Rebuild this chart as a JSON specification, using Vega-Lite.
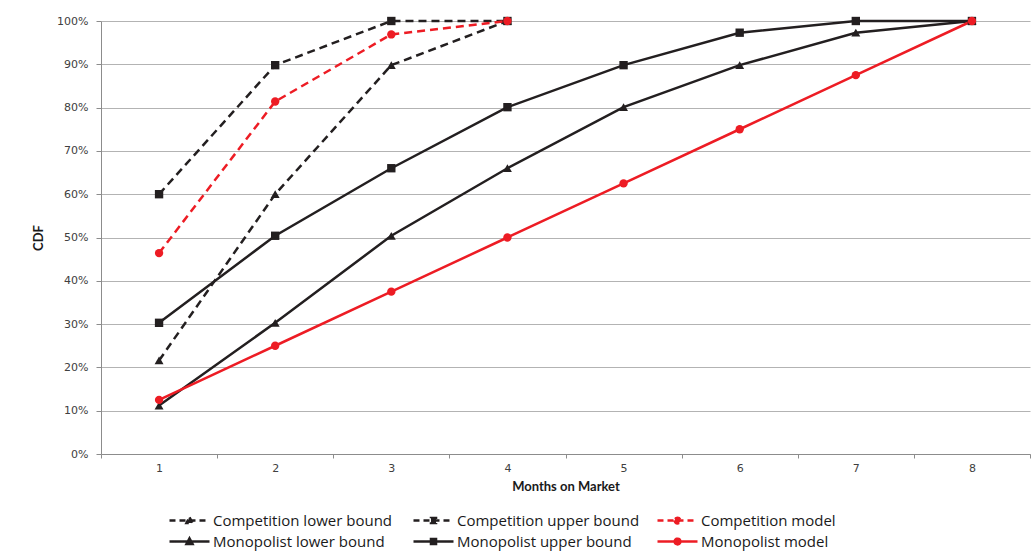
{
  "$schema": "https://vega.github.io/schema/vega-lite/v6.json",
  "width": 929,
  "height": 433,
  "autosize": {"type": "none"},
  "padding": {"left": 101, "top": 21, "right": 4, "bottom": 99},
  "background": "white",
  "config": {
    "view": {"stroke": null},
    "axis": {"labelFont": "DejaVu Sans", "labelFontSize": 11, "labelColor": "#404040", "titleFont": "Lato", "titleFontSize": 13, "titleFontWeight": "bold", "titleColor": "#1a1a1a", "domainColor": "#8c8c8c", "tickColor": "#8c8c8c", "gridColor": "#b3b3b3"}
  },
  "data": {"values": [
    {"month": 1, "cdf": 0.216, "series": "Competition lower bound"},
    {"month": 2, "cdf": 0.600, "series": "Competition lower bound"},
    {"month": 3, "cdf": 0.898, "series": "Competition lower bound"},
    {"month": 4, "cdf": 1.000, "series": "Competition lower bound"},
    {"month": 1, "cdf": 0.600, "series": "Competition upper bound"},
    {"month": 2, "cdf": 0.898, "series": "Competition upper bound"},
    {"month": 3, "cdf": 1.000, "series": "Competition upper bound"},
    {"month": 4, "cdf": 1.000, "series": "Competition upper bound"},
    {"month": 1, "cdf": 0.464, "series": "Competition model"},
    {"month": 2, "cdf": 0.814, "series": "Competition model"},
    {"month": 3, "cdf": 0.969, "series": "Competition model"},
    {"month": 4, "cdf": 1.000, "series": "Competition model"},
    {"month": 1, "cdf": 0.112, "series": "Monopolist lower bound"},
    {"month": 2, "cdf": 0.303, "series": "Monopolist lower bound"},
    {"month": 3, "cdf": 0.504, "series": "Monopolist lower bound"},
    {"month": 4, "cdf": 0.660, "series": "Monopolist lower bound"},
    {"month": 5, "cdf": 0.801, "series": "Monopolist lower bound"},
    {"month": 6, "cdf": 0.898, "series": "Monopolist lower bound"},
    {"month": 7, "cdf": 0.973, "series": "Monopolist lower bound"},
    {"month": 8, "cdf": 1.000, "series": "Monopolist lower bound"},
    {"month": 1, "cdf": 0.303, "series": "Monopolist upper bound"},
    {"month": 2, "cdf": 0.504, "series": "Monopolist upper bound"},
    {"month": 3, "cdf": 0.660, "series": "Monopolist upper bound"},
    {"month": 4, "cdf": 0.801, "series": "Monopolist upper bound"},
    {"month": 5, "cdf": 0.898, "series": "Monopolist upper bound"},
    {"month": 6, "cdf": 0.973, "series": "Monopolist upper bound"},
    {"month": 7, "cdf": 1.000, "series": "Monopolist upper bound"},
    {"month": 8, "cdf": 1.000, "series": "Monopolist upper bound"},
    {"month": 1, "cdf": 0.125, "series": "Monopolist model"},
    {"month": 2, "cdf": 0.250, "series": "Monopolist model"},
    {"month": 3, "cdf": 0.375, "series": "Monopolist model"},
    {"month": 4, "cdf": 0.500, "series": "Monopolist model"},
    {"month": 5, "cdf": 0.625, "series": "Monopolist model"},
    {"month": 6, "cdf": 0.750, "series": "Monopolist model"},
    {"month": 7, "cdf": 0.875, "series": "Monopolist model"},
    {"month": 8, "cdf": 1.000, "series": "Monopolist model"}
  ]},
  "encoding": {
    "x": {"field": "month", "type": "quantitative",
      "scale": {"domain": [0.5, 8.5], "nice": false, "zero": false},
      "axis": {"title": "Months on Market", "values": [0.5, 1.5, 2.5, 3.5, 4.5, 5.5, 6.5, 7.5, 8.5], "labelOffset": 58, "labelExpr": "datum.value < 8 ? format(datum.value + 0.5, 'd') : ''", "labelFlush": false, "labelOverlap": false, "grid": false, "tickSize": 4, "labelPadding": 4, "titlePadding": 7}},
    "y": {"field": "cdf", "type": "quantitative",
      "scale": {"domain": [0, 1], "nice": false},
      "axis": {"title": "CDF", "format": ".0%", "values": [0, 0.1, 0.2, 0.3, 0.4, 0.5, 0.6, 0.7, 0.8, 0.9, 1.0], "tickSize": 5, "labelPadding": 8, "titlePadding": 11, "grid": true}}
  },
  "layer": [
    {
      "transform": [{"filter": "datum.series == 'Competition lower bound' || datum.series == 'Competition upper bound'"}],
      "mark": {"type": "line", "strokeWidth": 2.5, "color": "#231f20", "strokeDash": [8, 5]},
      "encoding": {"detail": {"field": "series", "type": "nominal"}}
    },
    {
      "transform": [{"filter": "datum.series == 'Competition model'"}],
      "mark": {"type": "line", "strokeWidth": 2.5, "color": "#ed1c24", "strokeDash": [8, 5]},
      "encoding": {"detail": {"field": "series", "type": "nominal"}}
    },
    {
      "transform": [{"filter": "datum.series == 'Monopolist lower bound' || datum.series == 'Monopolist upper bound'"}],
      "mark": {"type": "line", "strokeWidth": 2.5, "color": "#231f20"},
      "encoding": {"detail": {"field": "series", "type": "nominal"}}
    },
    {
      "transform": [{"filter": "datum.series == 'Monopolist model'"}],
      "mark": {"type": "line", "strokeWidth": 2.5, "color": "#ed1c24"},
      "encoding": {"detail": {"field": "series", "type": "nominal"}}
    },
    {
      "transform": [{"filter": "indexof(datum.series, 'lower bound') >= 0"}],
      "mark": {"type": "point", "shape": "triangle-up", "filled": true, "opacity": 1, "size": 80, "color": "#231f20"}
    },
    {
      "transform": [{"filter": "indexof(datum.series, 'upper bound') >= 0"}],
      "mark": {"type": "point", "shape": "square", "filled": true, "opacity": 1, "size": 70, "color": "#231f20"}
    },
    {
      "transform": [{"filter": "indexof(datum.series, 'model') >= 0"}],
      "mark": {"type": "point", "shape": "circle", "filled": true, "opacity": 1, "size": 70, "color": "#ed1c24"}
    },
    {
      "mark": {"type": "point", "opacity": 0, "strokeWidth": 2.5},
      "encoding": {
        "fill": {"field": "series", "type": "nominal",
          "scale": {"domain": ["Competition lower bound", "Competition upper bound", "Competition model", "Monopolist lower bound", "Monopolist upper bound", "Monopolist model"],
                    "range": ["#231f20", "#231f20", "#ed1c24", "#231f20", "#231f20", "#ed1c24"]},
          "legend": {"title": null, "orient": "none", "direction": "horizontal", "legendX": 75.5, "legendY": 486.5, "columns": 3, "gridAlign": "all", "symbolSize": 529, "symbolOpacity": 1, "symbolStrokeWidth": 2.5, "labelFont": "Open Sans", "labelFontSize": 15, "labelColor": "#1a1a1a", "labelOffset": 10.5, "columnPadding": 12, "rowPadding": 0, "labelLimit": 300}},
        "stroke": {"field": "series", "type": "nominal",
          "scale": {"domain": ["Competition lower bound", "Competition upper bound", "Competition model", "Monopolist lower bound", "Monopolist upper bound", "Monopolist model"],
                    "range": ["#231f20", "#231f20", "#ed1c24", "#231f20", "#231f20", "#ed1c24"]},
          "legend": {"title": null, "orient": "none", "direction": "horizontal", "legendX": 75.5, "legendY": 486.5, "columns": 3, "gridAlign": "all", "symbolSize": 529, "symbolOpacity": 1, "symbolStrokeWidth": 2.5, "labelFont": "Open Sans", "labelFontSize": 15, "labelColor": "#1a1a1a", "labelOffset": 10.5, "columnPadding": 12, "rowPadding": 0, "labelLimit": 300}},
        "shape": {"field": "series", "type": "nominal",
          "scale": {"domain": ["Competition lower bound", "Competition upper bound", "Competition model", "Monopolist lower bound", "Monopolist upper bound", "Monopolist model"],
                    "range": ["M-1.74,0H1.74M0,-0.27L0.26,0.21L-0.26,0.21Z", "M-1.74,0H1.74M-0.22,-0.22H0.22V0.22H-0.22Z", "M-1.74,0H1.74M-0.25,0A0.25,0.25 0 1,0 0.25,0A0.25,0.25 0 1,0 -0.25,0Z", "M-1.74,0H1.74M0,-0.27L0.26,0.21L-0.26,0.21Z", "M-1.74,0H1.74M-0.22,-0.22H0.22V0.22H-0.22Z", "M-1.74,0H1.74M-0.25,0A0.25,0.25 0 1,0 0.25,0A0.25,0.25 0 1,0 -0.25,0Z"]},
          "legend": {"title": null, "orient": "none", "direction": "horizontal", "legendX": 75.5, "legendY": 486.5, "columns": 3, "gridAlign": "all", "symbolSize": 529, "symbolOpacity": 1, "symbolStrokeWidth": 2.5, "labelFont": "Open Sans", "labelFontSize": 15, "labelColor": "#1a1a1a", "labelOffset": 10.5, "columnPadding": 12, "rowPadding": 0, "labelLimit": 300}},
        "strokeDash": {"field": "series", "type": "nominal",
          "scale": {"domain": ["Competition lower bound", "Competition upper bound", "Competition model", "Monopolist lower bound", "Monopolist upper bound", "Monopolist model"],
                    "range": [[6, 4], [6, 4], [6, 4], [1, 0], [1, 0], [1, 0]]},
          "legend": {"title": null, "orient": "none", "direction": "horizontal", "legendX": 75.5, "legendY": 486.5, "columns": 3, "gridAlign": "all", "symbolSize": 529, "symbolOpacity": 1, "symbolStrokeWidth": 2.5, "labelFont": "Open Sans", "labelFontSize": 15, "labelColor": "#1a1a1a", "labelOffset": 10.5, "columnPadding": 12, "rowPadding": 0, "labelLimit": 300}}
      }
    }
  ]
}
